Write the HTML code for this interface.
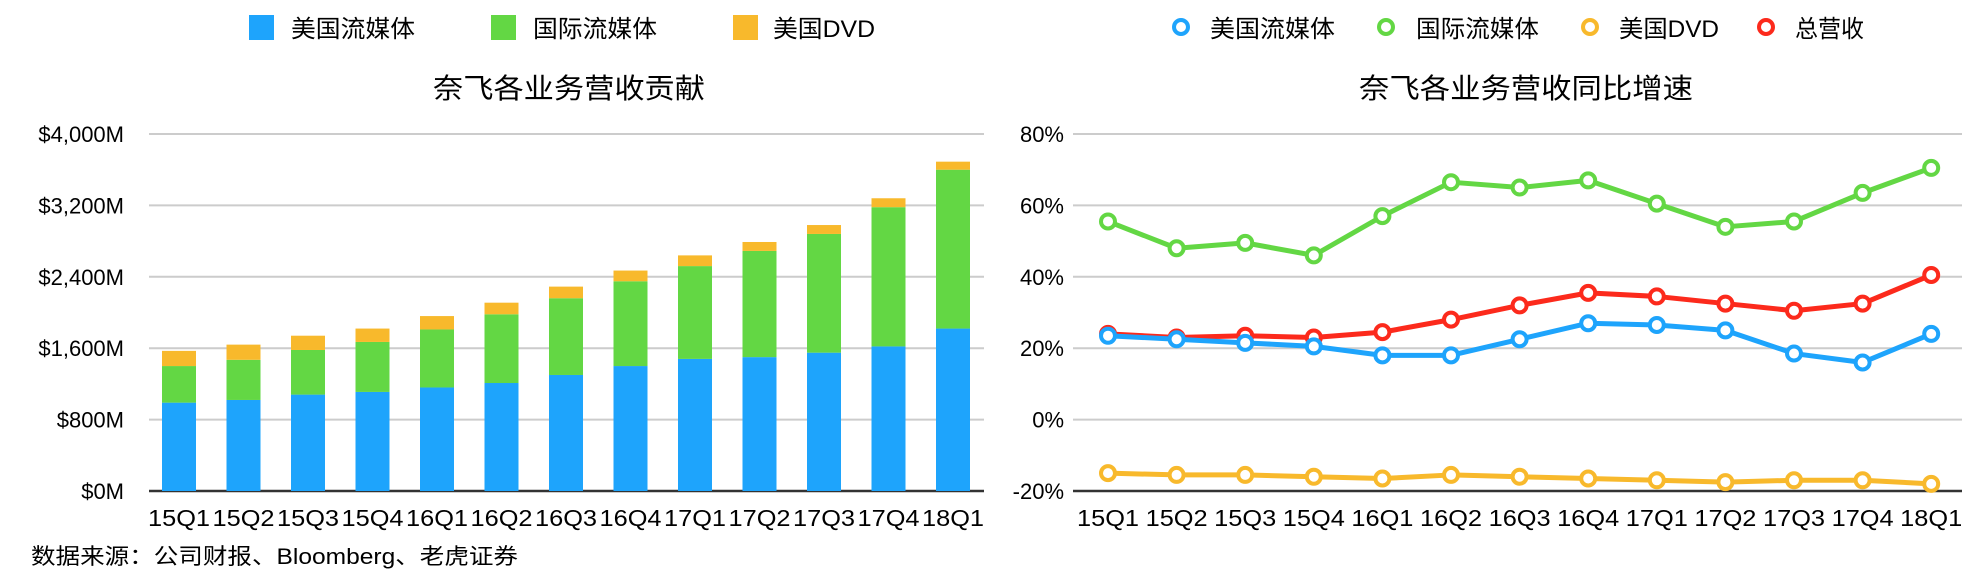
<!DOCTYPE html>
<html><head><meta charset="utf-8"><style>
body{margin:0;background:#fff}
svg{display:block;font-family:"Liberation Sans","Noto Sans CJK SC",sans-serif}
</style></head><body>
<svg id="c" width="1982" height="588" viewBox="0 0 1982 588"></svg>
<script>
const cats=["15Q1","15Q2","15Q3","15Q4","16Q1","16Q2","16Q3","16Q4","17Q1","17Q2","17Q3","17Q4","18Q1"];
const usStream=[990,1020,1080,1110,1160,1210,1300,1400,1480,1500,1550,1620,1820];
const intlStream=[410,450,500,560,650,770,860,950,1040,1190,1330,1560,1780];
const usDvd=[170,170,160,150,150,130,130,120,120,100,100,100,90];
const leftTicks=[0,800,1600,2400,3200,4000];
const leftTickLabels=["$0M","$800M","$1,600M","$2,400M","$3,200M","$4,000M"];
const gUS=[23.5,22.5,21.5,20.5,18,18,22.5,27,26.5,25,18.5,16,24];
const gIntl=[55.5,48,49.5,46,57,66.5,65,67,60.5,54,55.5,63.5,70.5];
const gDvd=[-15,-15.5,-15.5,-16,-16.5,-15.5,-16,-16.5,-17,-17.5,-17,-17,-18];
const gTotal=[24,23,23.5,23,24.5,28,32,35.5,34.5,32.5,30.5,32.5,40.5];
const rightTicks=[-20,0,20,40,60,80];
const rightTickLabels=["-20%","0%","20%","40%","60%","80%"];

const NS="http://www.w3.org/2000/svg",svg=document.getElementById('c');
function mk(tag,at,txt){const e=document.createElementNS(NS,tag);for(const k in at)e.setAttribute(k,at[k]);if(txt!=null)e.textContent=txt;svg.appendChild(e);return e;}
const C={us:"#1ea4fc",intl:"#63d744",dvd:"#f8b92c",tot:"#fc2a1c"};

// LEFT
const lx=i=>179+i*64.5, ly=v=>491-v/4000*357;
leftTicks.forEach((t,i)=>{
  const g=mk('line',{x1:149,x2:984,y1:ly(t),y2:ly(t),stroke:t===0?"#333":"#ccc","stroke-width":t===0?2.5:2});
  
  
  const l=mk('text',{x:124,y:ly(t)+8,"text-anchor":"end","font-size":22},leftTickLabels[i]);
  
  
});
cats.forEach((c,i)=>{
  const segs=[[0,usStream[i],C.us,'bar-us-streaming'],[usStream[i],usStream[i]+intlStream[i],C.intl,'bar-intl-streaming'],[usStream[i]+intlStream[i],usStream[i]+intlStream[i]+usDvd[i],C.dvd,'bar-us-dvd']];
  segs.forEach(s=>{
    const r=mk('rect',{x:lx(i)-17,width:34,y:ly(s[1]),height:ly(s[0])-ly(s[1]),fill:s[2]});
    
    
  });
  const t=mk('text',{x:lx(i),y:526,"text-anchor":"middle","font-size":23,textLength:62,lengthAdjust:"spacingAndGlyphs"},c);
  
  
});
const lt=mk('text',{x:569,y:98,"text-anchor":"middle","font-size":28,textLength:272,lengthAdjust:"spacingAndGlyphs"},"奈飞各业务营收贡献");


[[249,291,"美国流媒体",C.us,124],[491,533,"国际流媒体",C.intl,124],[733,773,"美国DVD",C.dvd,102]].forEach(l=>{
  const r=mk('rect',{x:l[0],y:15,width:25,height:25,fill:l[3]});
  
  
  const t=mk('text',{x:l[1],y:37,"font-size":24,textLength:l[4],lengthAdjust:"spacingAndGlyphs"},l[2]);
  
  
});
const fn=mk('text',{x:31,y:564,"font-size":22,textLength:487,lengthAdjust:"spacingAndGlyphs"},"数据来源：公司财报、Bloomberg、老虎证券");



// RIGHT
const rx=i=>1108+i*68.6, ry=v=>491-(v+20)/100*357;
rightTicks.forEach((t,i)=>{
  const g=mk('line',{x1:1073,x2:1962,y1:ry(t),y2:ry(t),stroke:t===-20?"#333":"#ccc","stroke-width":t===-20?2.5:2});
  
  
  const l=mk('text',{x:1064,y:ry(t)+8,"text-anchor":"end","font-size":22},rightTickLabels[i]);
  
  
});
cats.forEach((c,i)=>{
  const t=mk('text',{x:rx(i),y:526,"text-anchor":"middle","font-size":23,textLength:62,lengthAdjust:"spacingAndGlyphs"},c);
  
  
});
[[gDvd,C.dvd,'line-us-dvd'],[gTotal,C.tot,'line-total'],[gUS,C.us,'line-us-streaming'],[gIntl,C.intl,'line-intl-streaming']].forEach(s=>{
  const p=mk('polyline',{points:s[0].map((v,i)=>rx(i)+","+ry(v)).join(" "),fill:"none",stroke:s[1],"stroke-width":5,"stroke-linejoin":"round"});
  
  
  s[0].forEach((v,i)=>{
    const m=mk('circle',{cx:rx(i),cy:ry(v),r:7,fill:"#fff",stroke:s[1],"stroke-width":4});
    
    
  });
});
const rt=mk('text',{x:1526,y:98,"text-anchor":"middle","font-size":28,textLength:334,lengthAdjust:"spacingAndGlyphs"},"奈飞各业务营收同比增速");


[[1181,1210,"美国流媒体",C.us,125],[1386,1416,"国际流媒体",C.intl,123],[1590,1619,"美国DVD",C.dvd,100],[1766,1795,"总营收",C.tot,69]].forEach(l=>{
  const m=mk('circle',{cx:l[0],cy:27,r:7,fill:"#fff",stroke:l[3],"stroke-width":4});
  
  
  const t=mk('text',{x:l[1],y:37,"font-size":24,textLength:l[4],lengthAdjust:"spacingAndGlyphs"},l[2]);
  
  
});
</script>
</body></html>
